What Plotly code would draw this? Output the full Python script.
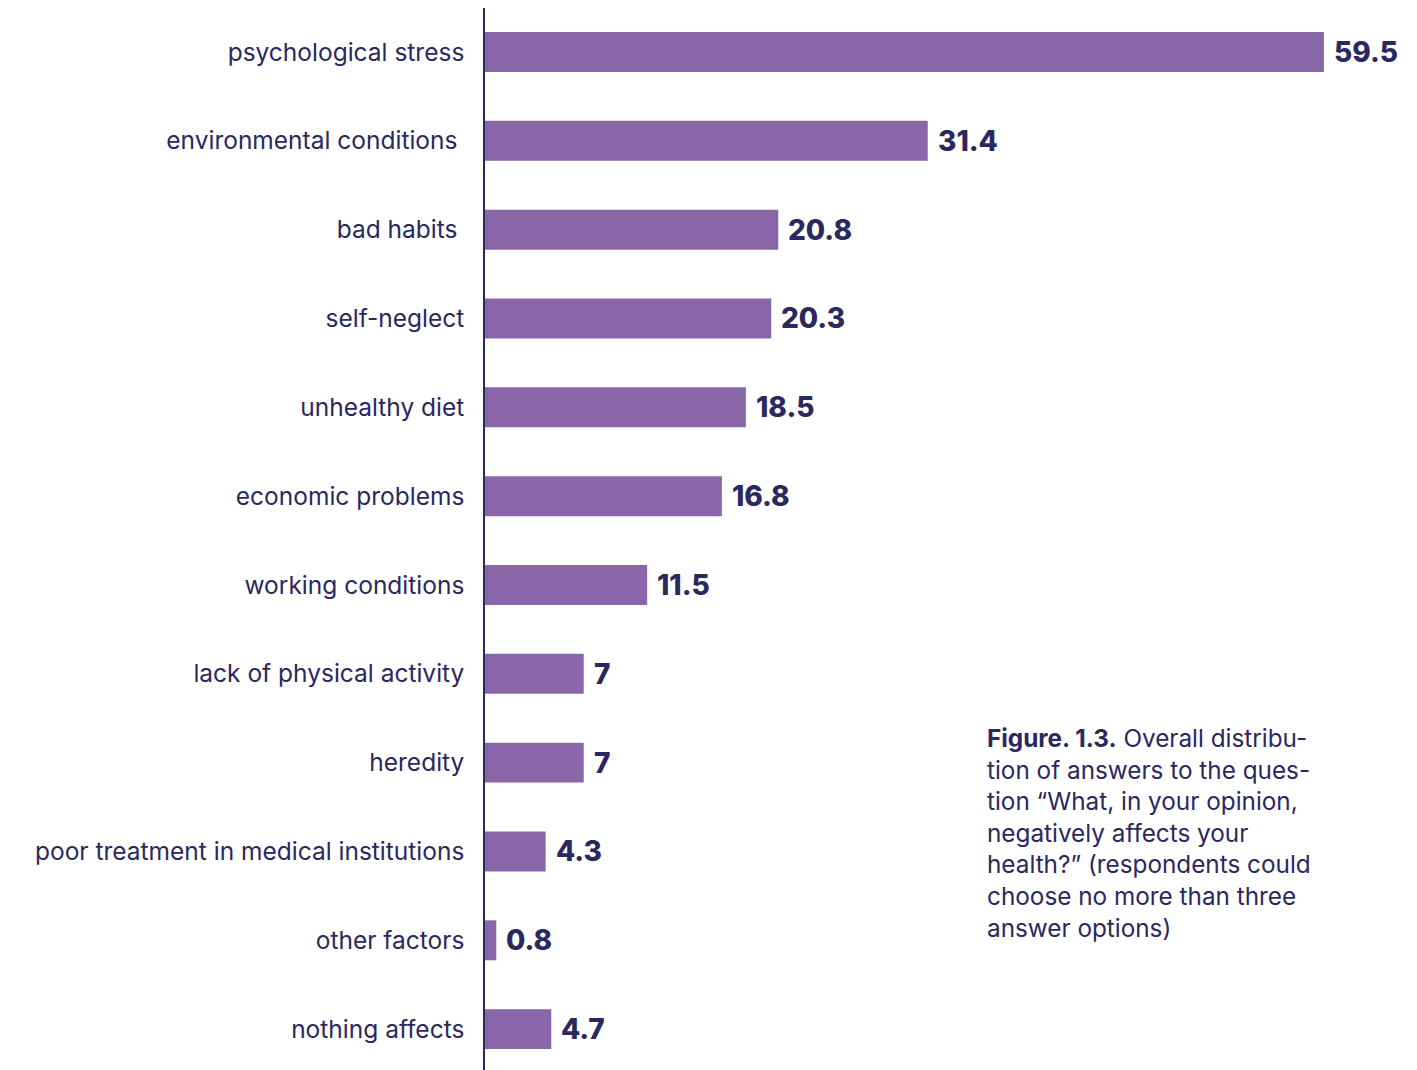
import plotly.graph_objects as go

# Share of respondents (%) naming each factor
factors = [
    "psychological stress",
    "environmental conditions\u00a0",
    "bad habits\u00a0",
    "self-neglect",
    "unhealthy diet",
    "economic problems",
    "working conditions",
    "lack of physical activity",
    "heredity",
    "poor treatment in medical institutions",
    "other factors",
    "nothing affects",
]
shares = [59.5, 31.4, 20.8, 20.3, 18.5, 16.8, 11.5, 7, 7, 4.3, 0.8, 4.7]
share_labels = ["59.5", "31.4", "20.8", "20.3", "18.5", "16.8", "11.5", "7", "7", "4.3", "0.8", "4.7"]

BAR = "#8966a8"
INK = "#2b2860"
FONT = "Inter, Lato, sans-serif"

fig = go.Figure(
    go.Bar(
        x=shares,
        y=list(range(len(factors))),
        orientation="h",
        marker=dict(color=BAR, line=dict(width=0)),
        width=0.45,
        hoverinfo="skip",
    )
)

for i, (v, t) in enumerate(zip(shares, share_labels)):
    fig.add_annotation(
        x=v, y=i, xref="x", yref="y", text=t,
        showarrow=False, xanchor="left", yanchor="middle", xshift=8,
        font=dict(family=FONT, size=28, color=INK, weight=800),
    )

fig.add_annotation(
    xref="paper", yref="paper", x=0.5365, y=0.3285,
    xanchor="left", yanchor="top", align="left", showarrow=False,
    text=("<b>Figure. 1.3.</b> Overall distribu-<br>"
          "tion of answers to the ques-<br>"
          "tion \u201cWhat, in your opinion,<br>"
          "negatively affects your<br>"
          "health?\u201d (respondents could<br>"
          "choose no more than three<br>"
          "answer options)"),
    font=dict(family=FONT, size=24.3, color=INK),
)

fig.update_layout(
    width=1417, height=1070,
    margin=dict(l=485, r=0, t=8, b=0),
    paper_bgcolor="white", plot_bgcolor="white",
    showlegend=False,
    xaxis=dict(range=[0, 66.1], visible=False, fixedrange=True),
    yaxis=dict(
        range=[11.46, -0.495],
        tickmode="array",
        tickvals=list(range(len(factors))),
        ticktext=factors,
        showgrid=False, zeroline=False,
        showline=True, linecolor=INK, linewidth=1.5,
        ticks="", ticklabelstandoff=14,
        tickfont=dict(family=FONT, size=24.5, color=INK),
    ),
)

fig.write_html("out.html")
